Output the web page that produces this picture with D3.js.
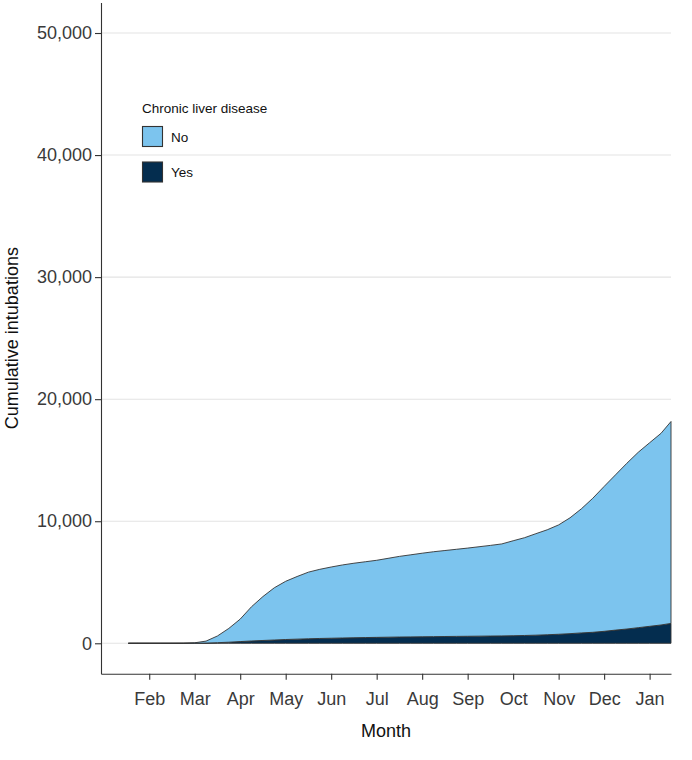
<!DOCTYPE html>
<html>
<head>
<meta charset="utf-8">
<script src="https://cdn.jsdelivr.net/npm/d3@7"></script>
<style>
	body { margin: 0; background: #fff; }
	svg text { font-family: "Liberation Sans", Arial, sans-serif; }
</style>
</head>
<body>
<div id="chart"></div>
<script>
// month index: 1 = Feb ... 12 = Jan (roughly weekly points)
const monthIdx = [0.54, 0.75, 1.0, 1.25, 1.5, 1.75, 2.0, 2.25, 2.5, 2.75, 3.0, 3.25, 3.5, 3.75, 4.0, 4.25, 4.5, 4.75, 5.0, 5.25, 5.5, 5.75, 6.0, 6.25, 6.5, 6.75, 7.0, 7.25, 7.5, 7.75, 8.0, 8.25, 8.5, 8.75, 9.0, 9.25, 9.5, 9.75, 10.0, 10.25, 10.5, 10.75, 11.0, 11.25, 11.5, 11.75, 12.0, 12.25, 12.47];
const noLiver = [0, 0, 0, 0, 0, 5, 35, 160, 550, 1130, 1840, 2810, 3600, 4280, 4770, 5130, 5460, 5665, 5835, 5985, 6105, 6210, 6315, 6460, 6605, 6725, 6845, 6955, 7045, 7135, 7225, 7325, 7425, 7535, 7780, 8010, 8315, 8600, 8960, 9490, 10170, 10980, 11870, 12720, 13580, 14370, 15040, 15700, 16540];
const yesLiver = [0, 0, 0, 0, 0, 0, 5, 20, 50, 90, 140, 190, 230, 270, 310, 340, 370, 395, 415, 435, 455, 470, 485, 500, 515, 525, 535, 545, 555, 565, 575, 585, 595, 605, 620, 640, 665, 700, 740, 790, 850, 900, 980, 1080, 1170, 1280, 1390, 1500, 1630];

const monthTicks = [1, 2, 3, 4, 5, 6, 7, 8, 9, 10, 11, 12];
const monthLabels = ["Feb", "Mar", "Apr", "May", "Jun", "Jul", "Aug", "Sep", "Oct", "Nov", "Dec", "Jan"];
const yTicks = [0, 10000, 20000, 30000, 40000, 50000];
const groups = ["Yes", "No"];
const colors = { No: "#7cc4ee", Yes: "#042d4f" };

const width = 692, height = 760;
const panel = { left: 101, right: 671, top: 2.5, bottom: 673.8 };

const svg = d3.select("#chart").append("svg").attr("width", width).attr("height", height);

const x = d3.scaleLinear().domain([-0.06, 12.47]).range([panel.left, panel.right]);
const y = d3.scaleLinear().domain([-2500, 52500]).range([panel.bottom, panel.top]);

// gridlines
svg.append("g")
	.selectAll("line")
	.data(yTicks)
	.join("line")
	.attr("x1", panel.left)
	.attr("x2", panel.right)
	.attr("y1", (d) => y(d))
	.attr("y2", (d) => y(d))
	.style("stroke", "#e3e3e3")
	.style("stroke-width", 1.1);

// stacked areas
const rows = monthIdx.map((m, i) => ({ m: m, No: noLiver[i], Yes: yesLiver[i] }));
const series = d3.stack().keys(groups)(rows);
const area = d3
	.area()
	.x((d) => x(d.data.m))
	.y0((d) => y(d[0]))
	.y1((d) => y(d[1]));

svg.append("g")
	.selectAll("path")
	.data(series)
	.join("path")
	.attr("d", area)
	.style("fill", (d) => colors[d.key])
	.style("stroke", "#333")
	.style("stroke-width", 0.9)
	.style("stroke-linejoin", "round");

// axes
const xAxis = svg.append("g")
	.attr("transform", `translate(0, ${panel.bottom})`)
	.call(d3.axisBottom(x).tickValues(monthTicks).tickFormat((d, i) => monthLabels[i]).tickSize(6).tickPadding(12).tickSizeOuter(0));
xAxis.select(".domain").style("stroke", "#333").style("stroke-width", 1.1);
xAxis.selectAll(".tick line").style("stroke", "#333").style("stroke-width", 1.1);
xAxis.selectAll("text").style("font-size", "18px").style("fill", "#3a3a3a");

const yAxis = svg.append("g")
	.attr("transform", `translate(${panel.left}, 0)`)
	.call(d3.axisLeft(y).tickValues(yTicks).tickFormat(d3.format(",")).tickSize(6).tickPadding(3).tickSizeOuter(0));
yAxis.select(".domain").style("stroke", "#333").style("stroke-width", 1.1);
yAxis.selectAll(".tick line").style("stroke", "#333").style("stroke-width", 1.1);
yAxis.selectAll("text").style("font-size", "18px").style("fill", "#3a3a3a");

// axis titles
svg.append("text")
	.attr("x", (panel.left + panel.right) / 2)
	.attr("y", 737)
	.attr("text-anchor", "middle")
	.style("font-size", "18px")
	.style("fill", "#111")
	.text("Month");

svg.append("text")
	.attr("transform", `translate(18, ${(panel.top + panel.bottom) / 2}) rotate(-90)`)
	.attr("text-anchor", "middle")
	.style("font-size", "18px")
	.style("fill", "#111")
	.text("Cumulative intubations");

// legend
const legend = svg.append("g").attr("transform", "translate(142, 0)");
legend.append("text")
	.attr("x", 0)
	.attr("y", 113)
	.style("font-size", "13.5px")
	.style("fill", "#111")
	.text("Chronic liver disease");

const keys = legend.selectAll("g.key")
	.data(["No", "Yes"])
	.join("g")
	.attr("class", "key")
	.attr("transform", (d, i) => `translate(0, ${126 + i * 35.5})`);
keys.append("rect")
	.attr("x", 0.5)
	.attr("y", 0.5)
	.attr("width", 20)
	.attr("height", 20)
	.style("fill", (d) => colors[d])
	.style("stroke", "#333")
	.style("stroke-width", 1.1);
keys.append("text")
	.attr("x", 29)
	.attr("y", 15.5)
	.style("font-size", "13.5px")
	.style("fill", "#111")
	.text((d) => d);
</script>
</body>
</html>
